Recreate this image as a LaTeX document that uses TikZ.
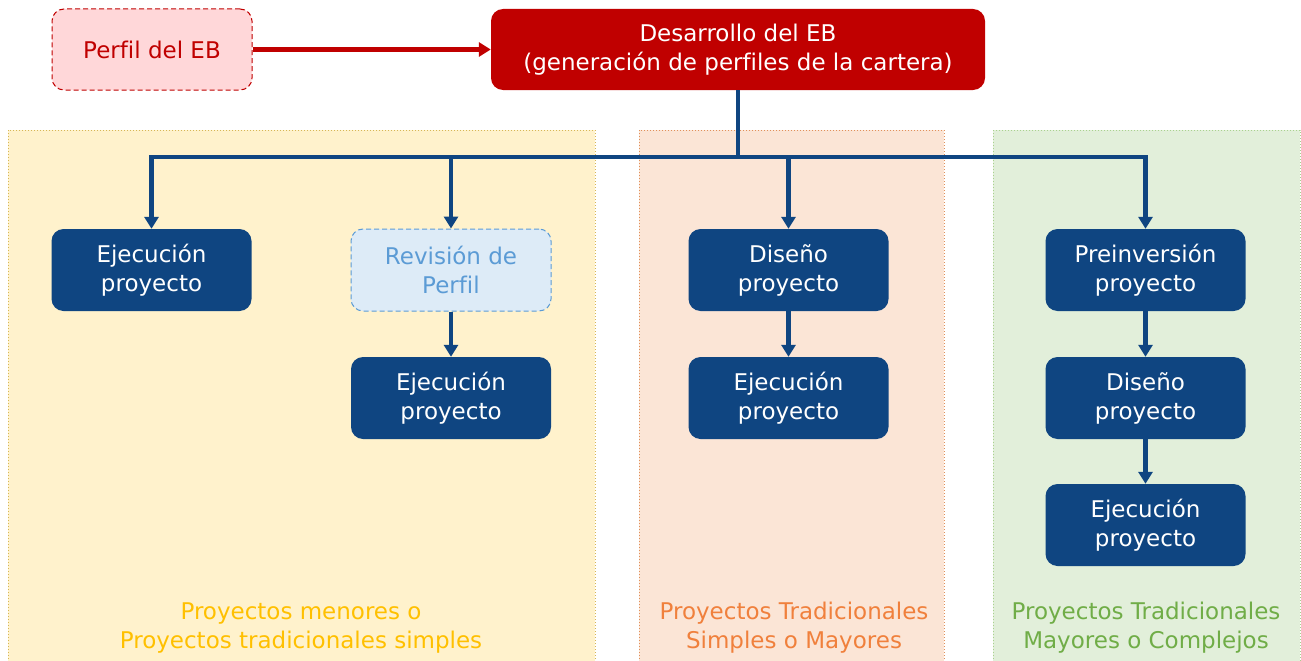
\documentclass[tikz,border=0pt]{standalone}
\usepackage{fontspec}
\setmainfont[Ligatures=NoCommon]{DejaVu Sans}
\usetikzlibrary{arrows.meta}
\definecolor{dblue}{HTML}{0F4581}
\definecolor{dred}{HTML}{C00000}
\definecolor{lpink}{HTML}{FFD7D9}
\definecolor{lblue}{HTML}{DDEBF7}
\definecolor{tblue}{HTML}{5B9BD5}
\definecolor{pyel}{HTML}{FFF2CC}
\definecolor{byel}{HTML}{D6B656}
\definecolor{tyel}{HTML}{FFC000}
\definecolor{pora}{HTML}{FBE5D6}
\definecolor{bora}{HTML}{E0905A}
\definecolor{tora}{HTML}{F0803C}
\definecolor{pgre}{HTML}{E2EFDA}
\definecolor{bgre}{HTML}{A9D18E}
\definecolor{tgre}{HTML}{70AD47}
\tikzset{
  txt/.style={font=\fontsize{23}{29}\selectfont, align=center, inner sep=0pt},
  bbox/.style={txt, rounded corners=12pt, minimum width=200pt, minimum height=82pt, fill=dblue, text=white},
  revbox/.style={bbox, fill=lblue, text=tblue, draw=tblue, line width=1pt, dash pattern=on 5pt off 3pt},
  panel/.style={line width=1pt, dotted},
  barr/.style={draw=dblue, line width=4.5pt, -{Triangle[length=12pt,width=14pt]}},
  bline/.style={draw=dblue, line width=4.5pt},
  plabel/.style={font=\fontsize{23}{29}\selectfont, align=center, inner sep=0pt}
}
\begin{document}
\begin{tikzpicture}[x=1pt,y=-1pt]
\useasboundingbox (0,0) rectangle (1301,661);
% panels
\path[panel, fill=pyel, draw=byel] (8,130) rectangle (595,662);
\path[panel, fill=pora, draw=bora] (639,130) rectangle (944,662);
\path[panel, fill=pgre, draw=bgre] (993,130) rectangle (1300,662);
% top boxes
\node[txt, rounded corners=12pt, minimum width=200pt, minimum height=81pt, fill=lpink, draw=dred, line width=1pt, dash pattern=on 5pt off 3pt, text=dred] (perf) at (152,49.5) {Perfil del EB};
\node[txt, rounded corners=12pt, minimum width=494pt, minimum height=81pt, fill=dred, text=white] (des) at (738,49.5) {Desarrollo del EB\\(generación de perfiles de la cartera)};
\draw[draw=dred, line width=4.5pt, -{Triangle[length=12pt,width=14pt]}] (perf.east) -- (des.west);
% blue boxes
\node[bbox] (e1) at (151.5,270) {Ejecución\\proyecto};
\node[revbox] (rev) at (451,270) {Revisión de\\Perfil};
\node[bbox] (e2) at (451,398) {Ejecución\\proyecto};
\node[bbox] (d1) at (788.5,270) {Diseño\\proyecto};
\node[bbox] (e3) at (788.5,398) {Ejecución\\proyecto};
\node[bbox] (p1) at (1145.5,270) {Preinversión\\proyecto};
\node[bbox] (d2) at (1145.5,398) {Diseño\\proyecto};
\node[bbox] (e4) at (1145.5,525) {Ejecución\\proyecto};
% connectors
\coordinate (j) at (738,157);
\draw[bline] (des.south) -- (j);
\draw[barr] (j) -| (e1.north);
\draw[barr] (j) -| (rev.north);
\draw[barr] (j) -| (d1.north);
\draw[barr] (j) -| (p1.north);
\draw[barr] (rev.south) -- (e2.north);
\draw[barr] (d1.south) -- (e3.north);
\draw[barr] (p1.south) -- (d2.north);
\draw[barr] (d2.south) -- (e4.north);
% panel labels
\node[plabel, text=tyel] (l1) at (301,628) {Proyectos menores o\\Proyectos tradicionales simples};
\node[plabel, text=tora] (l2) at (794,628) {Proyectos Tradicionales\\Simples o Mayores};
\node[plabel, text=tgre] (l3) at (1146,628) {Proyectos Tradicionales\\Mayores o Complejos};
\end{tikzpicture}
\end{document}
